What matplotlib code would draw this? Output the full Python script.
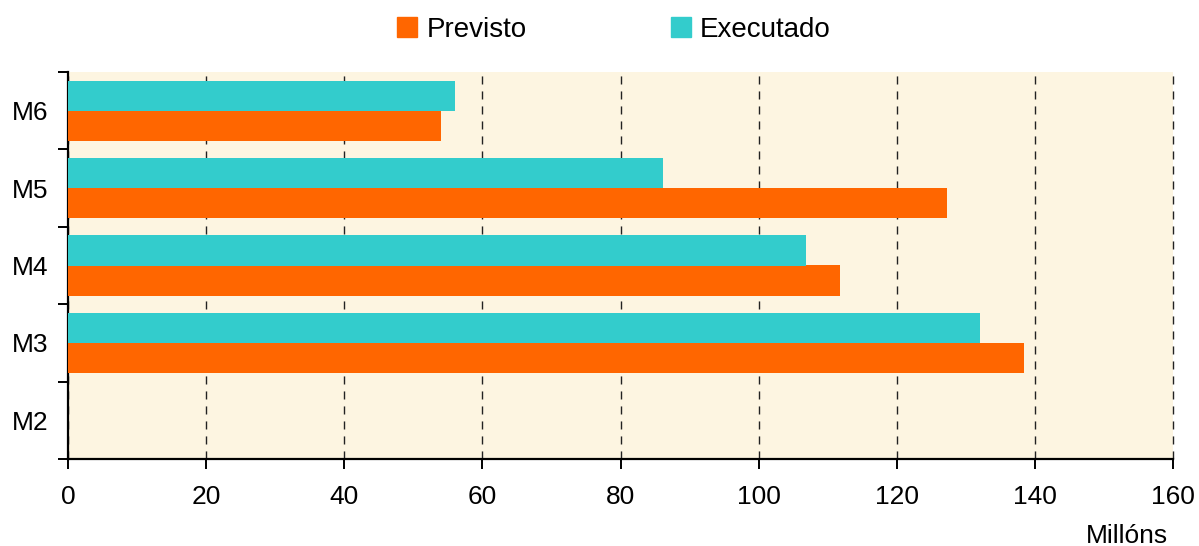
import numpy as np
import matplotlib.pyplot as plt
from matplotlib.patches import Patch

plt.rcParams['font.family'] = ['Liberation Sans', 'DejaVu Sans']

# --- data ---
categories = ['M2', 'M3', 'M4', 'M5', 'M6']
previsto = [0, 138.4, 111.8, 127.3, 54.0]
executado = [0, 132.1, 106.9, 86.2, 56.0]
x_ticks = [0, 20, 40, 60, 80, 100, 120, 140, 160]

c_prev = '#FF6600'
c_exec = '#33CCCC'

fig = plt.figure(figsize=(11.99, 5.46), dpi=100)
ax = fig.add_axes([68 / 1199, 1 - 459 / 546, (1173 - 68) / 1199, (459 - 72) / 546])
ax.set_facecolor('#FDF5E1')

y = np.arange(len(categories))
h = 0.39
ax.barh(y - h / 2, previsto, height=h, color=c_prev, zorder=3)
ax.barh(y + h / 2, executado, height=h, color=c_exec, zorder=3)

ax.set_xlim(0, 160)
ax.set_ylim(-0.5, len(categories) - 0.5)
ax.set_xticks(x_ticks)
ax.set_xticklabels([str(v) for v in x_ticks], fontsize=19)
ax.set_yticks(y)
ax.set_yticklabels(categories, fontsize=19)
ax.tick_params(axis='y', length=0, pad=14)
ax.set_yticks(np.arange(-0.5, len(categories)), minor=True)
ax.tick_params(axis='y', which='minor', length=7, width=1.4, direction='out')
ax.tick_params(axis='x', length=7, width=1.4, direction='out', pad=12)

# dashed vertical guides, including the one at the right edge
ax.grid(axis='x', color='#222222', linestyle=(0, (5.8, 5)), linewidth=1.0, zorder=1)
for gl in ax.get_xgridlines():
    gl.set_clip_on(False)

for s in ['top', 'right']:
    ax.spines[s].set_visible(False)
for s in ['left', 'bottom']:
    ax.spines[s].set_linewidth(1.6)

fig.text(1168 / 1199, 1 - 543 / 546, 'Millóns', ha='right', va='baseline', fontsize=19)

handles = [Patch(color=c_prev, label='Previsto'), Patch(color=c_exec, label='Executado')]
fig.legend(handles=handles, loc='center', bbox_to_anchor=(614 / 1199, 1 - 30 / 546),
           ncol=2, frameon=False, fontsize=20, handlelength=0.72, handleheight=0.72,
           handletextpad=0.32, columnspacing=5.2, borderpad=0, borderaxespad=0)

fig.savefig('out.png', dpi=100)
